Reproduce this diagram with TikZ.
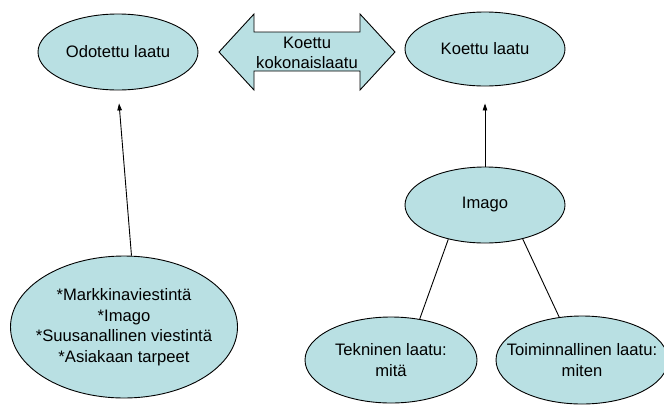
\documentclass[tikz,border=0pt]{standalone}
\usepackage{fontspec}
\setmainfont{Liberation Sans}
\usetikzlibrary{shapes.geometric,arrows.meta}
\definecolor{ovalfill}{RGB}{185,224,227}
\begin{document}
\begin{tikzpicture}[x=1pt, y=-1pt,
        txt/.style={font=\fontsize{16.6}{20.5}\selectfont, align=center},
        oval/.style={draw, ellipse, fill=ovalfill, line width=0.9pt, inner sep=-80pt, txt},
        link/.style={line width=0.9pt},
        arr/.style={link, -{Triangle[length=7pt, width=4.5pt]}}]
        \useasboundingbox (0,0) rectangle (664,405);
        % Koettu kokonaislaatu
        \node[oval, minimum width=160pt, minimum height=76pt] (odot) at (118,52) {Odotettu laatu};
        \node[oval, minimum width=160pt, minimum height=74pt] (koettu) at (485,49) {Koettu laatu};
        \node[oval, minimum width=160pt, minimum height=76pt] (imago) at (485,205) {Imago};
        \node[oval, minimum width=227pt, minimum height=142pt] (mark) at (124,327)
            {*Markkinaviestintä\\*Imago\\*Suusanallinen viestintä\\*Asiakaan tarpeet};
        \node[oval, minimum width=172pt, minimum height=86pt] (tek) at (391,360) {Tekninen laatu:\\mitä};
        \node[oval, minimum width=172pt, minimum height=88pt] (toim) at (582,360) {Toiminnallinen laatu:\\miten};
        \draw[link, fill=ovalfill] (219,52) -- (254,14) -- (254,32) -- (360,32) -- (360,14) -- (395,52)
            -- (360,90) -- (360,71) -- (254,71) -- (254,90) -- cycle;
        \node[txt, inner sep=0pt] (kok) at (307,53) {Koettu\\kokonaislaatu};
        \draw[arr, shorten >=13pt] (mark.84) -- (odot.south);
        \draw[arr, shorten >=17pt] (imago.north) -- (koettu.south);
        \draw[link] (imago.223) -- (tek.55);
        \draw[link] (imago.318) -- (toim.118);
    \end{tikzpicture}
\end{document}
